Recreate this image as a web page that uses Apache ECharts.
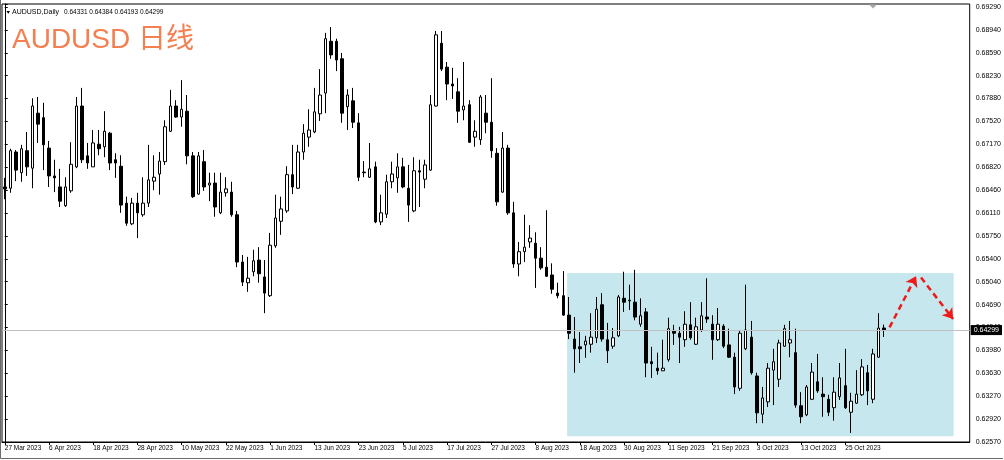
<!DOCTYPE html>
<html>
<head>
<meta charset="utf-8">
<script src="https://cdn.jsdelivr.net/npm/echarts@6/dist/echarts.min.js"></script>
<style>html,body{margin:0;padding:0;background:#fff}#c{width:1004px;height:460px}</style>
</head>
<body>
<div id="c"></div>
<script>
// ---- trading days shown (Mon-Fri), 27 Mar 2023 .. 3 Nov 2023 ----
const year = 2023;
const tradingDays = [
  ['Mar', [27,28,29,30,31]],
  ['Apr', [3,4,5,6,7,10,11,12,13,14,17,18,19,20,21,24,25,26,27,28]],
  ['May', [1,2,3,4,5,8,9,10,11,12,15,16,17,18,19,22,23,24,25,26,29,30,31]],
  ['Jun', [1,2,5,6,7,8,9,12,13,14,15,16,19,20,21,22,23,26,27,28,29,30]],
  ['Jul', [3,4,5,6,7,10,11,12,13,14,17,18,19,20,21,24,25,26,27,28,31]],
  ['Aug', [1,2,3,4,7,8,9,10,11,14,15,16,17,18,21,22,23,24,25,28,29,30,31]],
  ['Sep', [1,4,5,6,7,8,11,12,13,14,15,18,19,20,21,22,25,26,27,28,29]],
  ['Oct', [2,3,4,5,6,9,10,11,12,13,16,17,18,19,20,23,24,25,26,27,30,31]],
  ['Nov', [1,2,3]]
];
const emptyFutureBars = 15;   // blank space right of the last bar

// ---- daily OHLC ----
const opens = [
  0.6651,0.6649,0.6705,0.6673,0.6707,0.6680,0.6765,0.6758,0.6711,0.6668,
  0.6651,0.6622,0.6645,0.6682,0.6776,0.6699,0.6682,0.6717,0.6713,0.6734,
  0.6693,0.6683,0.6626,0.6594,0.6626,0.6608,0.6626,0.6660,0.6671,0.6690,
  0.6737,0.6776,0.6759,0.6768,0.6699,0.6640,0.6690,0.6654,0.6657,0.6611,
  0.6642,0.6643,0.6608,0.6535,0.6503,0.6520,0.6538,0.6512,0.6483,0.6560,
  0.6598,0.6614,0.6670,0.6649,0.6705,0.6728,0.6736,0.6764,0.6796,0.6876,
  0.6876,0.6849,0.6775,0.6784,0.6750,0.6674,0.6666,0.6682,0.6597,0.6609,
  0.6659,0.6665,0.6682,0.6649,0.6614,0.6676,0.6663,0.6677,0.6776,0.6873,
  0.6836,0.6810,0.6798,0.6770,0.6778,0.6728,0.6724,0.6765,0.6751,0.6703,
  0.6643,0.6711,0.6611,0.6532,0.6551,0.6566,0.6564,0.6541,0.6527,0.6515,
  0.6487,0.6483,0.6453,0.6416,0.6404,0.6407,0.6408,0.6418,0.6469,0.6415,
  0.6405,0.6421,0.6479,0.6475,0.6473,0.6439,0.6458,0.6381,0.6371,0.6367,
  0.6384,0.6428,0.6425,0.6415,0.6438,0.6408,0.6430,0.6450,0.6439,0.6415,
  0.6436,0.6407,0.6388,0.6340,0.6401,0.6419,0.6359,0.6300,0.6319,0.6368,
  0.6354,0.6405,0.6410,0.6395,0.6313,0.6299,0.6323,0.6350,0.6331,0.6323,
  0.6310,0.6327,0.6344,0.6303,0.6317,0.6330,0.6364,0.6323,0.6388,0.64331
];
const closes = [
  0.6648,0.6707,0.6677,0.6710,0.6682,0.6776,0.6748,0.6716,0.6668,0.6665,
  0.6629,0.6651,0.6686,0.6776,0.6693,0.6688,0.6719,0.6710,0.6737,0.6688,
  0.6688,0.6623,0.6595,0.6626,0.6611,0.6626,0.6662,0.6666,0.6691,0.6744,
  0.6776,0.6759,0.6771,0.6699,0.6636,0.6699,0.6651,0.6657,0.6620,0.6643,
  0.6648,0.6608,0.6535,0.6504,0.6510,0.6537,0.6517,0.6487,0.6561,0.6603,
  0.6617,0.6670,0.6651,0.6705,0.6734,0.6739,0.6767,0.6793,0.6880,0.6855,
  0.6847,0.6765,0.6793,0.6751,0.6666,0.6673,0.6679,0.6597,0.6611,0.6659,
  0.6671,0.6682,0.6651,0.6623,0.6676,0.6674,0.6685,0.6778,0.6886,0.6833,
  0.6810,0.6807,0.6768,0.6776,0.6720,0.6737,0.6790,0.6751,0.6707,0.6628,
  0.6711,0.6611,0.6532,0.6551,0.6558,0.6572,0.6541,0.6526,0.6513,0.6493,
  0.6483,0.6453,0.6425,0.6401,0.6401,0.6413,0.6419,0.6462,0.6416,0.6398,
  0.6418,0.6481,0.6473,0.6476,0.6450,0.6452,0.6379,0.6378,0.6367,0.6371,
  0.6432,0.6425,0.6419,0.6439,0.6418,0.6435,0.6452,0.6447,0.6415,0.6439,
  0.6405,0.6388,0.6342,0.6425,0.6430,0.6364,0.6302,0.6325,0.6371,0.6381,
  0.6410,0.6432,0.6415,0.6314,0.6296,0.6342,0.6365,0.6336,0.6327,0.6303,
  0.6334,0.6356,0.6310,0.6320,0.6331,0.6373,0.6336,0.6393,0.6433,0.64299
];
const lows = [
  0.6632,0.6642,0.6660,0.6659,0.6668,0.6649,0.6719,0.6677,0.6651,0.6643,
  0.6620,0.6620,0.6642,0.6680,0.6688,0.6679,0.6682,0.6700,0.6697,0.6677,
  0.6665,0.6611,0.6591,0.6592,0.6572,0.6605,0.6620,0.6646,0.6639,0.6685,
  0.6736,0.6758,0.6744,0.6686,0.6634,0.6639,0.6645,0.6629,0.6605,0.6609,
  0.6636,0.6605,0.6527,0.6498,0.6489,0.6513,0.6503,0.6456,0.6481,0.6557,
  0.6577,0.6611,0.6640,0.6648,0.6693,0.6713,0.6734,0.6753,0.6765,0.6849,
  0.6830,0.6750,0.6739,0.6742,0.6660,0.6666,0.6665,0.6595,0.6592,0.6603,
  0.6649,0.6642,0.6649,0.6597,0.6612,0.6620,0.6649,0.6676,0.6775,0.6830,
  0.6785,0.6787,0.6750,0.6754,0.6719,0.6713,0.6716,0.6734,0.6696,0.6622,
  0.6642,0.6608,0.6526,0.6513,0.6535,0.6557,0.6495,0.6523,0.6512,0.6486,
  0.6479,0.6452,0.6416,0.6364,0.6379,0.6387,0.6395,0.6410,0.6412,0.6379,
  0.6401,0.6419,0.6458,0.6461,0.6445,0.6435,0.6357,0.6356,0.6361,0.6367,
  0.6381,0.6407,0.6379,0.6404,0.6415,0.6407,0.6427,0.6441,0.6384,0.6413,
  0.6402,0.6387,0.6331,0.6336,0.6399,0.6361,0.6286,0.6286,0.6311,0.6314,
  0.6342,0.6404,0.6388,0.6310,0.6286,0.6297,0.6322,0.6333,0.6296,0.6297,
  0.6290,0.6322,0.6308,0.6271,0.6316,0.6328,0.6314,0.6317,0.6387,0.64193
];
const highs = [
  0.6665,0.6710,0.6708,0.6716,0.6736,0.6788,0.6790,0.6781,0.6722,0.6693,
  0.6679,0.6666,0.6720,0.6790,0.6804,0.6719,0.6739,0.6739,0.6768,0.6736,
  0.6703,0.6700,0.6636,0.6634,0.6642,0.6666,0.6716,0.6700,0.6705,0.6754,
  0.6801,0.6785,0.6816,0.6793,0.6705,0.6705,0.6708,0.6673,0.6673,0.6673,
  0.6666,0.6659,0.6614,0.6546,0.6543,0.6554,0.6558,0.6538,0.6580,0.6639,
  0.6636,0.6683,0.6716,0.6716,0.6748,0.6771,0.6804,0.6833,0.6889,0.6898,
  0.6880,0.6858,0.6802,0.6804,0.6765,0.6691,0.6719,0.6690,0.6639,0.6670,
  0.6690,0.6703,0.6696,0.6685,0.6697,0.6693,0.6693,0.6793,0.6892,0.6892,
  0.6844,0.6835,0.6819,0.6844,0.6785,0.6754,0.6793,0.6793,0.6819,0.6711,
  0.6736,0.6716,0.6628,0.6566,0.6608,0.6592,0.6581,0.6558,0.6615,0.6533,
  0.6503,0.6521,0.6481,0.6450,0.6427,0.6421,0.6456,0.6481,0.6487,0.6441,
  0.6433,0.6484,0.6520,0.6500,0.6523,0.6479,0.6464,0.6404,0.6395,0.6415,
  0.6449,0.6438,0.6435,0.6459,0.6473,0.6449,0.6473,0.6510,0.6453,0.6464,
  0.6439,0.6432,0.6395,0.6430,0.6500,0.6444,0.6364,0.6342,0.6379,0.6401,
  0.6415,0.6438,0.6444,0.6432,0.6334,0.6345,0.6379,0.6393,0.6357,0.6330,
  0.6357,0.6379,0.6401,0.6333,0.6368,0.6385,0.6376,0.6401,0.6456,0.64384
];

// ---- price axis ----
const yTickLabels = ['0.62570','0.62920','0.63270','0.63630','0.63980','0.64340','0.64690',
  '0.65040','0.65400','0.65750','0.66110','0.66460','0.66820','0.67170','0.67520','0.67880',
  '0.68230','0.68590','0.68940','0.69290'];
const yMin = 0.62570;
const yStep = (0.69290 - 0.62570) / 19;
const yMax = 0.69336;
const lastPrice = 0.64299;
const headerText = 'AUDUSD,Daily';
const headerPrices = '0.64331 0.64384 0.64193 0.64299';
const titleText = 'AUDUSD 日线';

// ---- annotations (x in bar index units, y in price) ----
const rangeBox = [[101.7, 0.6518], [171.6, 0.6266]];
const arrows = [
  [[160.0, 0.6434], [164.8, 0.6513]],
  [[165.7, 0.6511], [171.5, 0.6447]]
];

// build categories
const categories = [];
tradingDays.forEach(([m, days]) => days.forEach(d => categories.push(d + ' ' + m + ' ' + year)));
for (let i = 0; i < emptyFutureBars; i++) categories.push('');

const candleData = opens.map((o, i) => [o, closes[i], lows[i], highs[i]]);

const LAT = '"Liberation Sans", Arial, sans-serif';
const chart = echarts.init(document.getElementById('c'), null, {renderer: 'canvas'});
chart.setOption({
  animation: false,
  backgroundColor: '#ffffff',
  textStyle: {fontFamily: LAT},
  grid: {left: 2, top: 4, width: 969, height: 438, show: true, borderColor: '#000', borderWidth: 1},
  xAxis: [{
    type: 'category', data: categories, boundaryGap: true,
    axisLine: {show: true, lineStyle: {color: '#000', width: 1}},
    axisTick: {show: true, alignWithLabel: true, length: 3, lineStyle: {color: '#000'},
      interval: (i, v) => i % 8 === 0 && v !== ''},
    axisLabel: {interval: 7, align: 'left', margin: 3, fontSize: 6.5, color: '#000', fontFamily: LAT},
    splitLine: {show: false}
  }, {
    type: 'value', show: false, min: -0.5, max: categories.length - 0.5
  }],
  yAxis: {
    type: 'value', position: 'right', min: yMin, max: yMax, interval: yStep,
    axisLine: {show: true, lineStyle: {color: '#000', width: 1}},
    axisTick: {show: true, length: 3, lineStyle: {color: '#000'}},
    axisLabel: {margin: 6, fontSize: 7, color: '#000', fontFamily: LAT,
      formatter: (v, i) => (yTickLabels[i] !== undefined ? yTickLabels[i] : '')},
    splitLine: {show: false}
  },
  series: [{
    name: 'AUDUSD', type: 'candlestick', xAxisIndex: 0, yAxisIndex: 0,
    data: candleData, barWidth: 3,
    itemStyle: {color: '#ffffff', color0: '#000000', borderColor: '#000000', borderColor0: '#000000', borderWidth: 1}
  }, {
    name: 'annotations', type: 'line', xAxisIndex: 1, yAxisIndex: 0, data: [],
    markArea: {
      silent: true, itemStyle: {color: '#c6e7ed'},
      data: [[{coord: rangeBox[0]}, {coord: rangeBox[1]}]]
    },
    markLine: {
      silent: true, animation: false, precision: 5, symbol: ['none', 'arrow'], symbolSize: 10,
      lineStyle: {color: '#f01818', width: 2.5, type: [6, 4]},
      label: {show: false},
      data: arrows.map(a => [{coord: a[0]}, {coord: a[1]}]).concat([[
        {coord: [-0.5, lastPrice], symbol: 'none',
          lineStyle: {color: '#c0c0c0', type: 'solid', width: 1}},
        {coord: [categories.length - 0.5, lastPrice], symbol: 'none',
          label: {show: true, position: 'end', distance: 1, formatter: lastPrice.toFixed(5),
            backgroundColor: '#000', color: '#fff', fontSize: 7, fontFamily: LAT, padding: [2, 3, 1, 3]}}
      ]])
    }
  }],
  graphic: [
    {type: 'polygon', shape: {points: [[6.5, 11], [10, 11], [8.25, 13.8]]}, style: {fill: '#000'}},
    {type: 'text', x: 12, y: 12.5, style: {text: headerText, fill: '#000', fontSize: 7, fontFamily: LAT, verticalAlign: 'middle'}},
    {type: 'text', x: 64, y: 12.5, style: {text: headerPrices, fill: '#000', fontSize: 6.5, fontFamily: LAT, verticalAlign: 'middle'}},
    {type: 'text', x: 12, y: 40, style: {text: titleText, fill: '#f47f50', fontSize: 28, fontFamily: '"Liberation Sans", "Noto Sans CJK SC", sans-serif', verticalAlign: 'middle'}},
    {type: 'polygon', shape: {points: [[869, 4.5], [877, 4.5], [873, 8.5]]}, style: {fill: '#a8a8a8'}},
    {type: 'polyline', shape: {points: [[0.5, 0], [0.5, 458.5], [1003, 458.5]]}, style: {stroke: '#6a6a6a', lineWidth: 1, fill: null}}
  ]
});
</script>
</body>
</html>
